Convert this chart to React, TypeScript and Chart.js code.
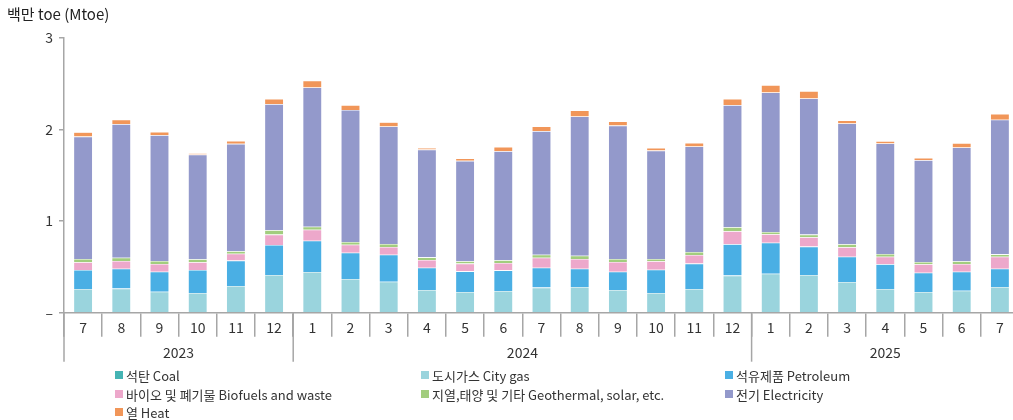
import React, { useEffect, useRef } from 'react';
import { Chart, registerables } from 'chart.js';

Chart.register(...registerables);

// ---- data ----
const months = ['7', '8', '9', '10', '11', '12', '1', '2', '3', '4', '5', '6', '7', '8', '9', '10', '11', '12', '1', '2', '3', '4', '5', '6', '7'];
const yearOf = [
  '2023', '2023', '2023', '2023', '2023', '2023',
  '2024', '2024', '2024', '2024', '2024', '2024', '2024', '2024', '2024', '2024', '2024', '2024',
  '2025', '2025', '2025', '2025', '2025', '2025', '2025',
];
const yTickLabels = ['–', '1', '2', '3'];

const coal = [0, 0, 0, 0, 0, 0, 0, 0, 0, 0, 0, 0, 0, 0, 0, 0, 0, 0, 0, 0, 0, 0, 0, 0, 0];
const cityGas = [0.259, 0.263, 0.230, 0.215, 0.292, 0.412, 0.445, 0.368, 0.339, 0.248, 0.226, 0.237, 0.274, 0.281, 0.248, 0.215, 0.259, 0.405, 0.426, 0.412, 0.336, 0.259, 0.226, 0.241, 0.281];
const petroleum = [0.208, 0.218, 0.218, 0.252, 0.277, 0.328, 0.342, 0.288, 0.295, 0.244, 0.226, 0.226, 0.218, 0.200, 0.200, 0.255, 0.277, 0.343, 0.339, 0.310, 0.276, 0.270, 0.211, 0.207, 0.200];
const biofuels = [0.084, 0.084, 0.084, 0.084, 0.076, 0.113, 0.120, 0.087, 0.084, 0.084, 0.084, 0.080, 0.109, 0.106, 0.106, 0.092, 0.095, 0.142, 0.092, 0.102, 0.103, 0.083, 0.092, 0.084, 0.131];
const geothermal = [0.036, 0.036, 0.033, 0.033, 0.026, 0.048, 0.033, 0.030, 0.033, 0.029, 0.026, 0.030, 0.033, 0.036, 0.033, 0.025, 0.033, 0.044, 0.025, 0.029, 0.033, 0.030, 0.025, 0.030, 0.026];
const electricity = [1.337, 1.459, 1.374, 1.143, 1.173, 1.377, 1.520, 1.442, 1.283, 1.177, 1.097, 1.191, 1.349, 1.520, 1.457, 1.184, 1.151, 1.333, 1.523, 1.487, 1.318, 1.206, 1.112, 1.242, 1.469];
const heat = [0.048, 0.047, 0.036, 0.015, 0.033, 0.058, 0.073, 0.052, 0.047, 0.019, 0.025, 0.048, 0.051, 0.065, 0.044, 0.030, 0.040, 0.069, 0.081, 0.080, 0.034, 0.026, 0.025, 0.048, 0.065];

const seriesNames = ['석탄 Coal', '도시가스 City gas', '석유제품 Petroleum', '바이오 및 폐기물 Biofuels and waste', '지열,태양 및 기타 Geothermal, solar, etc.', '전기 Electricity', '열 Heat'];
const seriesColors = ['#45B4B4', '#9AD4DD', '#4AAFE4', '#EDA8CB', '#A2CD7E', '#9399CB', '#F19659'];
const seriesData = [coal, cityGas, petroleum, biofuels, geothermal, electricity, heat];

const FONT = '"Noto Sans CJK KR", "Noto Sans", sans-serif';
const AXIS = '#a6a6a6';
const TEXT = '#333333';

const yearPlugin = {
  id: 'yearRow',
  afterDraw(chart: any) {
    const xs = chart.scales.x;
    const ctx = chart.ctx;
    const half = (xs.getPixelForValue(1) - xs.getPixelForValue(0)) / 2;
    const top = xs.top;
    ctx.save();
    ctx.strokeStyle = AXIS;
    ctx.lineWidth = 1.5;
    ctx.fillStyle = TEXT;
    ctx.font = `14px ${FONT}`;
    ctx.textAlign = 'center';
    ctx.textBaseline = 'middle';
    let start = 0;
    for (let i = 1; i <= yearOf.length; i++) {
      if (i === yearOf.length || yearOf[i] !== yearOf[start]) {
        const x0 = xs.getPixelForValue(start) - half;
        const x1 = xs.getPixelForValue(i - 1) + half;
        ctx.beginPath();
        ctx.moveTo(x0, top);
        ctx.lineTo(x0, top + 49);
        ctx.stroke();
        ctx.fillText(yearOf[start], (x0 + x1) / 2, top + 40);
        start = i;
      }
    }
    ctx.restore();
  },
};

export default function App() {
  const ref = useRef<HTMLCanvasElement>(null);
  useEffect(() => {
    if (!ref.current) return;
    const chart = new Chart(ref.current, {
      type: 'bar',
      data: {
        labels: months,
        datasets: seriesData.map((d, i) => ({
          label: seriesNames[i],
          data: d,
          backgroundColor: seriesColors[i],
          borderColor: 'rgba(255,255,255,0.35)',
          borderWidth: 0.6,
          categoryPercentage: 1,
          barPercentage: 0.5,
        })),
      },
      options: {
        responsive: false,
        animation: false,
        layout: { padding: { top: 38, right: 11, left: 0, bottom: 0 } },
        plugins: { legend: { display: false }, tooltip: { enabled: false }, title: { display: false } },
        scales: {
          x: {
            stacked: true,
            border: { display: true, color: AXIS, width: 1.5 },
            grid: { offset: true, drawOnChartArea: false, drawTicks: true, tickLength: 24, color: AXIS, lineWidth: 1.5 },
            ticks: { color: TEXT, font: { family: FONT, size: 14 }, padding: -17, maxRotation: 0, autoSkip: false },
            afterFit: (s: any) => { s.height = 107.3; },
          },
          y: {
            stacked: true,
            min: 0,
            max: 3,
            border: { display: true, color: AXIS, width: 1.5 },
            grid: { drawOnChartArea: false, drawTicks: true, tickLength: 5, color: AXIS, lineWidth: 1.5 },
            ticks: {
              stepSize: 1,
              color: TEXT,
              padding: 6,
              font: { family: FONT, size: 14 },
              callback: (v: any) => yTickLabels[Math.round(Number(v))],
            },
            afterFit: (s: any) => { s.width = 64; },
          },
        },
      },
      plugins: [yearPlugin],
    });
    return () => chart.destroy();
  }, []);

  const legendCols = [115, 421, 725];
  const legendRows = [375, 394, 412];

  return (
    <div style={{ position: 'fixed', left: 0, top: 0, width: 1013, height: 420, overflow: 'hidden', background: '#fff' }}>
      <canvas ref={ref} width={1030} height={420} style={{ position: 'absolute', left: 0, top: 0, width: 1030, height: 420 }} />
      <div style={{ position: 'absolute', left: 7, top: 4, font: `15px ${FONT}`, color: '#222', whiteSpace: 'nowrap', lineHeight: '20px' }}>
        백만 toe (Mtoe)
      </div>
      {seriesNames.map((name, i) => (
        <div
          key={name}
          style={{
            position: 'absolute',
            left: legendCols[i % 3],
            top: legendRows[Math.floor(i / 3)] - 9,
            height: 18,
            display: 'flex',
            alignItems: 'center',
            font: `13px ${FONT}`,
            color: TEXT,
            whiteSpace: 'nowrap',
          }}
        >
          <span style={{ display: 'inline-block', width: 8, height: 8, background: seriesColors[i], marginRight: 3 }} />
          {name}
        </div>
      ))}
    </div>
  );
}
